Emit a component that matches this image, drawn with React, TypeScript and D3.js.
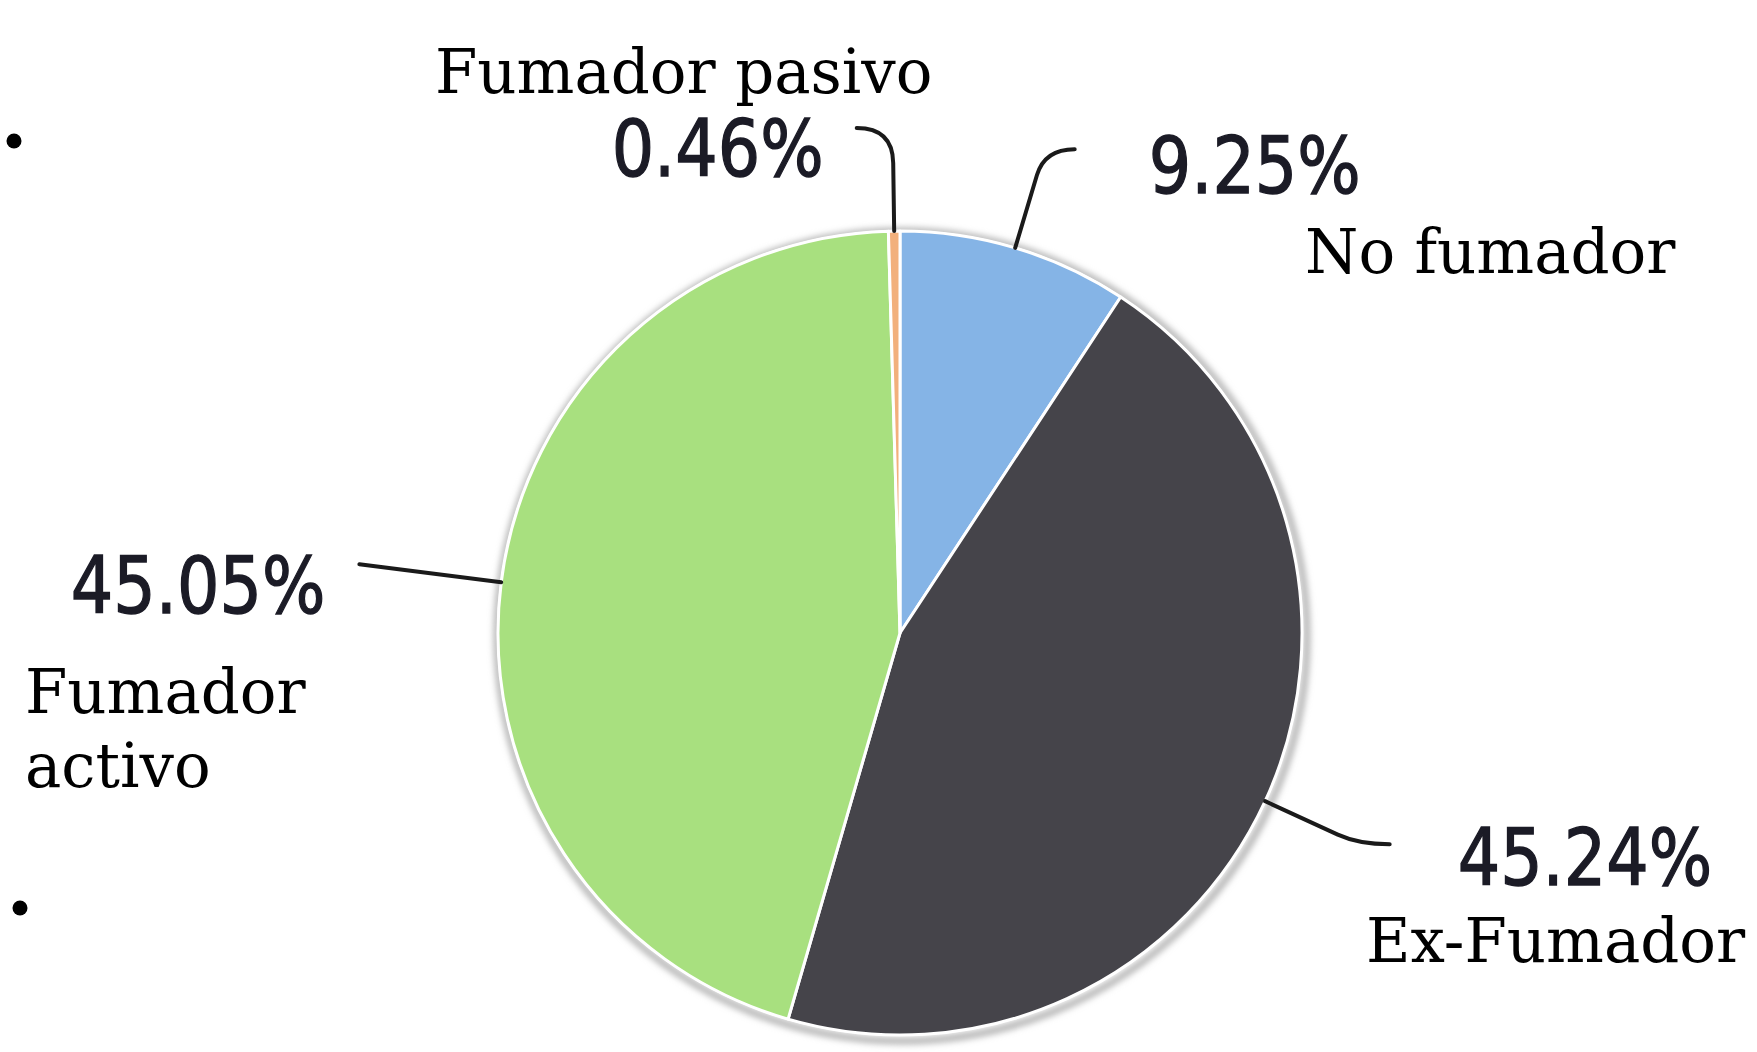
import React from "react";
import * as d3 from "d3";

const categories = ["No fumador", "Ex-Fumador", "Fumador activo", "Fumador pasivo"];
const values = [9.25, 45.24, 45.05, 0.46];
const colors = ["#85b4e6", "#45444a", "#a8e07f", "#f2b07c"];
const categoryLines = [["No fumador"], ["Ex-Fumador"], ["Fumador", "activo"], ["Fumador pasivo"]];

const W = 1757;
const H = 1052;
const CX = 900;
const CY = 633;
const R = 402;

// leader / label layout per slice (not data)
const leaderLayout = [
  { r1: 478, r2: 505, h: 30, gap: 74, dy: 44 },
  { r1: 482, r2: 505, h: 31, gap: 68, dy: 41 },
  { r1: 540, r2: 545, h: 0, gap: 34, dy: 49 },
  { r1: 470, r2: 505, h: -36, gap: 33, dy: 48 },
];
const categoryPos = [
  { x: 1305, y: 273, size: 61 },
  { x: 1366, y: 962, size: 61 },
  { x: 25, y: 713, size: 61 },
  { x: 435, y: 93, size: 61 },
];

export default function App() {
  const pie = d3.pie<number>().sort(null).value((d) => d);
  const arcs = pie(values);
  const arc = d3.arc<d3.PieArcDatum<number>>().innerRadius(0).outerRadius(R);
  const pt = (a: number, r: number) => [CX + r * Math.sin(a), CY - r * Math.cos(a)];

  return (
    <svg
      width={W}
      height={H}
      style={{ position: "absolute", left: 0, top: 0, background: "#fff" }}
      xmlns="http://www.w3.org/2000/svg"
    >
      <defs>
        <filter id="blur" x="-20%" y="-20%" width="140%" height="140%">
          <feGaussianBlur stdDeviation="3" />
        </filter>
      </defs>
      {/* bullets */}
      <circle cx={14} cy={141} r={7.5} fill="#000" />
      <circle cx={20} cy={908} r={7.5} fill="#000" />

      {/* shadow ring */}
      <circle cx={CX + 2} cy={CY + 3} r={R + 3} fill="none" stroke="#b5b5b5" strokeWidth={7} filter="url(#blur)" />
      <circle cx={CX} cy={CY} r={R + 1} fill="#fff" />

      <g transform={`translate(${CX},${CY})`}>
        {arcs.map((a, i) => (
          <path key={i} d={arc(a) || ""} fill={colors[i]} stroke="#fff" strokeWidth={3} strokeLinejoin="round" />
        ))}
      </g>

      {arcs.map((a, i) => {
        const L = leaderLayout[i];
        const mid = (a.startAngle + a.endAngle) / 2;
        const p0 = pt(mid, R);
        const p1 = pt(mid, L.r1);
        const pc = pt(mid, L.r2);
        const p3 = [pc[0] + L.h, pc[1]];
        const d =
          L.h === 0
            ? `M${p0[0]},${p0[1]}L${pc[0]},${pc[1]}`
            : `M${p0[0]},${p0[1]}L${p1[0]},${p1[1]}Q${pc[0]},${pc[1]} ${p3[0]},${p3[1]}`;
        const right = p3[0] > CX;
        const tx = right ? p3[0] + L.gap : p3[0] - L.gap;
        const ty = p3[1] + L.dy;
        return (
          <g key={"l" + i}>
            <path d={d} fill="none" stroke="#1a1a1a" strokeWidth={4} strokeLinecap="round" />
            <text
              transform={`translate(${tx},${ty}) scale(0.845,1)`}
              textAnchor={right ? "start" : "end"}
              fontFamily="'DejaVu Sans', Verdana, sans-serif"
              fontSize={79}
              fill="#1b1b26"
              stroke="#1b1b26"
              strokeWidth={1.4}
            >
              {values[i].toFixed(2) + "%"}
            </text>
          </g>
        );
      })}

      {categoryLines.map((lines, i) => (
        <text
          key={"c" + i}
          x={categoryPos[i].x}
          y={categoryPos[i].y}
          fontFamily="'DejaVu Serif', serif"
          fontSize={categoryPos[i].size}
          fill="#000"
        >
          {lines.map((ln, j) => (
            <tspan key={j} x={categoryPos[i].x} dy={j === 0 ? 0 : 74}>
              {ln}
            </tspan>
          ))}
        </text>
      ))}
    </svg>
  );
}
